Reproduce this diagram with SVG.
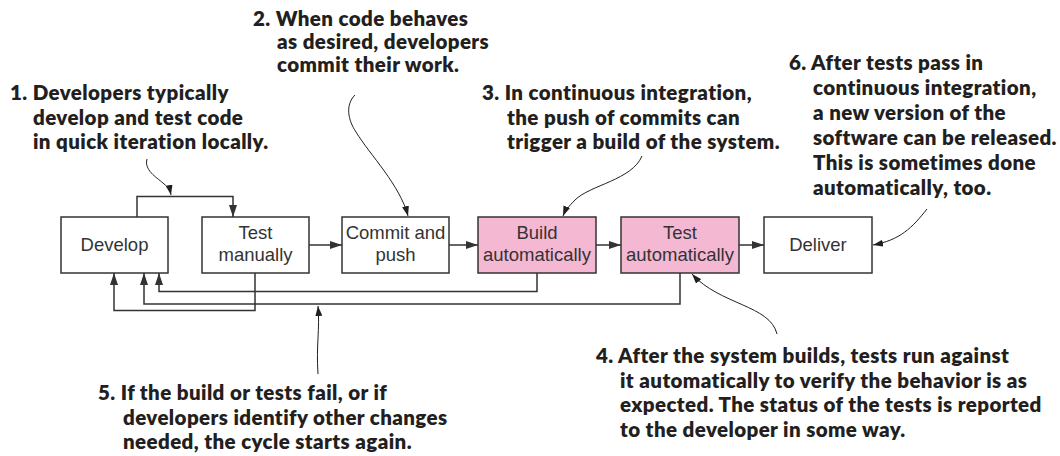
<svg xmlns="http://www.w3.org/2000/svg" width="1060" height="456" viewBox="0 0 1060 456">
<style>
.box{fill:#fff;stroke:#333;stroke-width:1.5}
.pink{fill:#f5b8d3;stroke:#333;stroke-width:1.5}
.lbl{font-family:"Liberation Sans",Arial,sans-serif;font-size:18.5px;fill:#333;text-anchor:middle}
.ann{font-family:Lato,"Open Sans",sans-serif;font-weight:800;font-size:20.5px;letter-spacing:0.4px;fill:#231f20}
.conn{fill:none;stroke:#333;stroke-width:1.5}
.call{fill:none;stroke:#231f20;stroke-width:1}
</style>
<defs>
<marker id="ah" viewBox="0 0 12 8" refX="12" refY="4" markerWidth="12" markerHeight="8" markerUnits="userSpaceOnUse" orient="auto"><path d="M0,0 L12,4 L0,8 z" fill="#333"/></marker>
<marker id="ah2" viewBox="0 0 10 7" refX="10" refY="3.5" markerWidth="10" markerHeight="7" markerUnits="userSpaceOnUse" orient="auto"><path d="M0,0 L10,3.5 L0,7 z" fill="#231f20"/></marker>
</defs>
<g id="connectors">
<path class="conn" d="M137,217 V196.5 H233 V217" marker-end="url(#ah)"/>
<path class="conn" d="M309,245 H342" marker-end="url(#ah)"/>
<path class="conn" d="M449,245 H478" marker-end="url(#ah)"/>
<path class="conn" d="M596,245 H621" marker-end="url(#ah)"/>
<path class="conn" d="M739,245 H764" marker-end="url(#ah)"/>
<path class="conn" d="M255,273 V310.5 H114 V273" marker-end="url(#ah)"/>
<path class="conn" d="M680,273 V304 H144 V273" marker-end="url(#ah)"/>
<path class="conn" d="M537,273 V291.5 H159 V273" marker-end="url(#ah)"/>
</g>
<g id="callouts">
<path class="call" d="M147,159 C144,170 156,177 163,183 S170,190 171,195" marker-end="url(#ah2)"/>
<path class="call" d="M355,95 C345,105 348,120 356,132 C370,155 400,185 408,216" marker-end="url(#ah2)"/>
<path class="call" d="M642,156 C632,180 590,185 575,200 C569,206 565,211 563,216" marker-end="url(#ah2)"/>
<path class="call" d="M927,209 C912,228 900,240 873,245" marker-end="url(#ah2)"/>
<path class="call" d="M777,334 C770,305 720,305 692,274" marker-end="url(#ah2)"/>
<path class="call" d="M318,374 C316,345 320,330 318,306" marker-end="url(#ah2)"/>
</g>
<g id="develop"><rect class="box" x="61" y="217" width="107" height="56"/><text class="lbl" x="114.5" y="251">Develop</text></g>
<g id="test-manually"><rect class="box" x="202" y="217" width="107" height="56"/><text class="lbl" x="255.5" y="238.5">Test</text><text class="lbl" x="255.5" y="261">manually</text></g>
<g id="commit-push"><rect class="box" x="342" y="217" width="107" height="56"/><text class="lbl" x="395.5" y="238.5">Commit and</text><text class="lbl" x="395.5" y="261">push</text></g>
<g id="build-auto"><rect class="pink" x="478" y="217" width="118" height="56"/><text class="lbl" x="537" y="238.5">Build</text><text class="lbl" x="537" y="261">automatically</text></g>
<g id="test-auto"><rect class="pink" x="621" y="217" width="118" height="56"/><text class="lbl" x="680" y="238.5">Test</text><text class="lbl" x="680" y="261">automatically</text></g>
<g id="deliver"><rect class="box" x="764" y="217" width="108" height="56"/><text class="lbl" x="818" y="251">Deliver</text></g>
<g id="note1">
<text class="ann" x="10" y="100">1. Developers typically</text>
<text class="ann" x="33" y="124.5">develop and test code</text>
<text class="ann" x="33" y="149">in quick iteration locally.</text>
</g>
<g id="note2">
<text class="ann" x="253" y="26">2. When code behaves</text>
<text class="ann" x="277" y="49">as desired, developers</text>
<text class="ann" x="277" y="72">commit their work.</text>
</g>
<g id="note3">
<text class="ann" x="482" y="100">3. In continuous integration,</text>
<text class="ann" x="507" y="124.5">the push of commits can</text>
<text class="ann" x="507" y="149">trigger a build of the system.</text>
</g>
<g id="note6">
<text class="ann" x="789" y="70">6. After tests pass in</text>
<text class="ann" x="813" y="95">continuous integration,</text>
<text class="ann" x="813" y="120">a new version of the</text>
<text class="ann" x="813" y="145">software can be released.</text>
<text class="ann" x="813" y="170">This is sometimes done</text>
<text class="ann" x="813" y="195">automatically, too.</text>
</g>
<g id="note4">
<text class="ann" x="596" y="363">4. After the system builds, tests run against</text>
<text class="ann" x="620" y="387.5">it automatically to verify the behavior is as</text>
<text class="ann" x="620" y="412">expected. The status of the tests is reported</text>
<text class="ann" x="620" y="436.5">to the developer in some way.</text>
</g>
<g id="note5">
<text class="ann" x="98" y="400">5. If the build or tests fail, or if</text>
<text class="ann" x="123" y="424.5">developers identify other changes</text>
<text class="ann" x="123" y="449">needed, the cycle starts again.</text>
</g>
</svg>
